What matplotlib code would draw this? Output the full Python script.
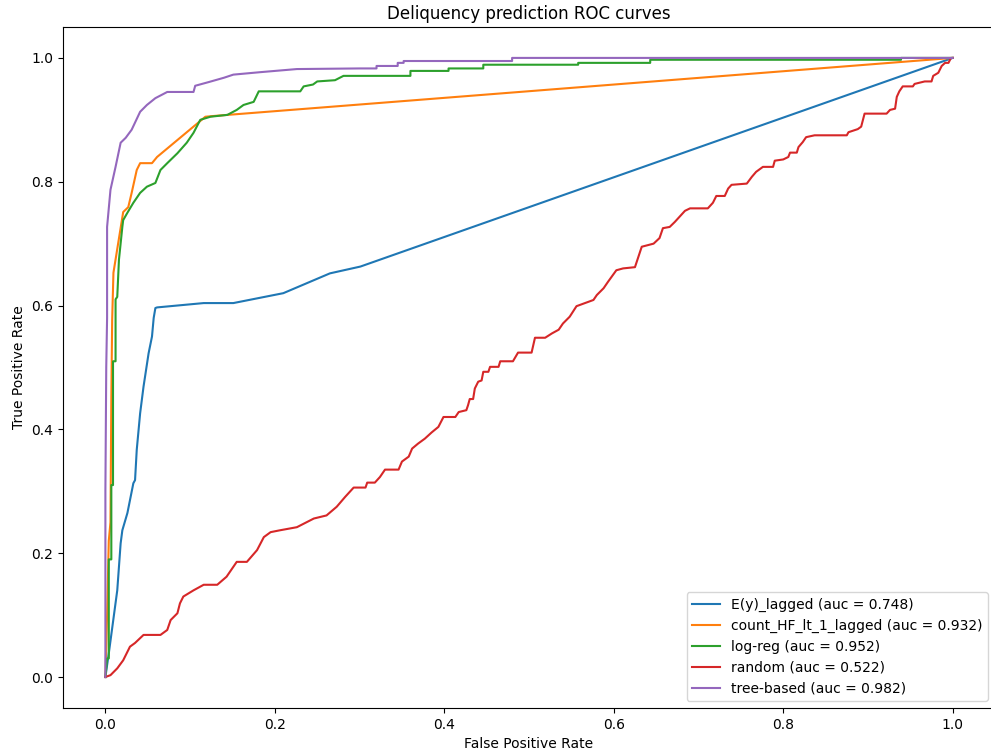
import matplotlib
matplotlib.use("Agg")
import matplotlib.pyplot as plt

# ======================
# DATOS
# ======================
labels = ["E(y)_lagged", "count_HF_lt_1_lagged", "log-reg", "random", "tree-based"]
aucs = [0.748, 0.932, 0.952, 0.522, 0.982]

fpr_ey = [0, 0.004, 0.014, 0.018, 0.020, 0.026, 0.033, 0.035, 0.037, 0.041, 0.045,
          0.051, 0.055, 0.057, 0.059, 0.061, 0.116, 0.151, 0.21, 0.265, 0.301, 1.0]
tpr_ey = [0, 0.038, 0.140, 0.216, 0.237, 0.265, 0.313, 0.318, 0.367, 0.426, 0.469,
          0.523, 0.550, 0.580, 0.596, 0.597, 0.604, 0.604, 0.620, 0.652, 0.663, 1.0]

fpr_cnt = [0, 0.002, 0.004, 0.006, 0.007, 0.008, 0.0095, 0.021, 0.027, 0.031, 0.037,
           0.041, 0.055, 0.061, 0.118, 0.126, 1.0]
tpr_cnt = [0, 0.10, 0.22, 0.25, 0.45, 0.577, 0.653, 0.751, 0.759, 0.782, 0.819,
           0.830, 0.830, 0.840, 0.905, 0.906, 1.0]

fpr_lr = [0, 0.002, 0.004, 0.004, 0.007, 0.007, 0.009, 0.009, 0.012, 0.012, 0.014,
          0.016, 0.020, 0.021, 0.026, 0.033, 0.041, 0.049, 0.059, 0.065, 0.073,
          0.085, 0.096, 0.104, 0.112, 0.124, 0.144, 0.155, 0.163, 0.175, 0.181,
          0.230, 0.234, 0.245, 0.25, 0.271, 0.281, 0.36, 0.36, 0.405, 0.405,
          0.446, 0.446, 0.558, 0.558, 0.643, 0.643, 0.939, 0.939, 1.0]
tpr_lr = [0, 0.03, 0.03, 0.19, 0.19, 0.31, 0.31, 0.51, 0.51, 0.61, 0.614,
          0.674, 0.727, 0.738, 0.750, 0.766, 0.782, 0.792, 0.798, 0.819, 0.830,
          0.846, 0.863, 0.879, 0.900, 0.905, 0.908, 0.916, 0.924, 0.929, 0.946,
          0.946, 0.954, 0.957, 0.962, 0.964, 0.971, 0.971, 0.979, 0.979, 0.983,
          0.983, 0.989, 0.989, 0.992, 0.992, 0.997, 0.997, 1.0, 1.0]

fpr_rnd = [0, 0.006, 0.014, 0.021, 0.029, 0.035, 0.045, 0.065, 0.073, 0.077, 0.085,
           0.088, 0.092, 0.104, 0.116, 0.132, 0.143, 0.151, 0.155, 0.167, 0.179,
           0.187, 0.195, 0.206, 0.226, 0.246, 0.261, 0.273, 0.283, 0.293, 0.307,
           0.309, 0.318, 0.324, 0.330, 0.346, 0.350, 0.358, 0.362, 0.369, 0.377,
           0.385, 0.393, 0.399, 0.413, 0.417, 0.426, 0.428, 0.430, 0.434, 0.436,
           0.440, 0.444, 0.446, 0.452, 0.454, 0.464, 0.466, 0.481, 0.487, 0.503,
           0.507, 0.519, 0.527, 0.535, 0.540, 0.548, 0.556, 0.564, 0.576, 0.580,
           0.588, 0.593, 0.603, 0.611, 0.625, 0.633, 0.647, 0.654, 0.658, 0.666,
           0.672, 0.678, 0.684, 0.690, 0.711, 0.717, 0.721, 0.731, 0.735, 0.739,
           0.757, 0.763, 0.768, 0.776, 0.788, 0.790, 0.800, 0.806, 0.808, 0.816,
           0.818, 0.823, 0.827, 0.837, 0.875, 0.877, 0.888, 0.892, 0.896, 0.922,
           0.926, 0.932, 0.934, 0.937, 0.941, 0.953, 0.955, 0.967, 0.975, 0.977,
           0.983, 0.987, 0.991, 0.995, 0.998, 1.0]
tpr_rnd = [0, 0.003, 0.014, 0.027, 0.049, 0.055, 0.068, 0.068, 0.076, 0.092, 0.103,
           0.119, 0.130, 0.140, 0.149, 0.149, 0.162, 0.178, 0.186, 0.186, 0.205,
           0.226, 0.234, 0.237, 0.242, 0.256, 0.261, 0.275, 0.291, 0.306, 0.306,
           0.314, 0.314, 0.323, 0.335, 0.335, 0.348, 0.356, 0.369, 0.377, 0.385,
           0.395, 0.404, 0.420, 0.420, 0.428, 0.431, 0.439, 0.449, 0.449, 0.466,
           0.477, 0.479, 0.493, 0.493, 0.501, 0.501, 0.510, 0.510, 0.524, 0.524,
           0.548, 0.548, 0.555, 0.561, 0.571, 0.582, 0.599, 0.603, 0.609, 0.617,
           0.628, 0.638, 0.657, 0.660, 0.662, 0.695, 0.700, 0.709, 0.725, 0.727,
           0.735, 0.744, 0.753, 0.757, 0.757, 0.766, 0.777, 0.777, 0.789, 0.795,
           0.797, 0.808, 0.816, 0.824, 0.824, 0.834, 0.836, 0.840, 0.847, 0.847,
           0.856, 0.864, 0.872, 0.875, 0.875, 0.880, 0.885, 0.889, 0.910, 0.910,
           0.916, 0.918, 0.937, 0.946, 0.954, 0.954, 0.958, 0.962, 0.962, 0.971,
           0.976, 0.987, 0.992, 0.992, 1.0, 1.0]

fpr_tree = [0, 0.0, 0.001, 0.002, 0.002, 0.006, 0.012, 0.018, 0.024, 0.031, 0.041,
            0.049, 0.059, 0.073, 0.104, 0.106, 0.122, 0.14, 0.151, 0.183, 0.226,
            0.30, 0.32, 0.32, 0.345, 0.345, 0.352, 0.352, 0.48, 0.48, 1.0]
tpr_tree = [0, 0.30, 0.50, 0.58, 0.727, 0.787, 0.824, 0.863, 0.871, 0.884, 0.913,
            0.924, 0.935, 0.945, 0.945, 0.955, 0.961, 0.968, 0.973, 0.977, 0.982,
            0.983, 0.983, 0.987, 0.987, 0.992, 0.992, 0.995, 0.995, 1.0, 1.0]

curvas = [(fpr_ey, tpr_ey), (fpr_cnt, tpr_cnt), (fpr_lr, tpr_lr),
          (fpr_rnd, tpr_rnd), (fpr_tree, tpr_tree)]

# ======================
# GRAFICAR
# ======================
fig = plt.figure(figsize=(9.91, 7.53), dpi=100)
ax = fig.add_axes([0.0636, 0.0598, 0.9405, 0.9044])

for (fpr, tpr), lab, auc in zip(curvas, labels, aucs):
    ax.plot(fpr, tpr, label=f"{lab} (auc = {auc:.3f})")

ax.set_xlabel("False Positive Rate")
ax.set_ylabel("True Positive Rate")
ax.set_title("Deliquency prediction ROC curves")
ax.legend(loc="lower right")

fig.savefig("out.png", dpi=100)
